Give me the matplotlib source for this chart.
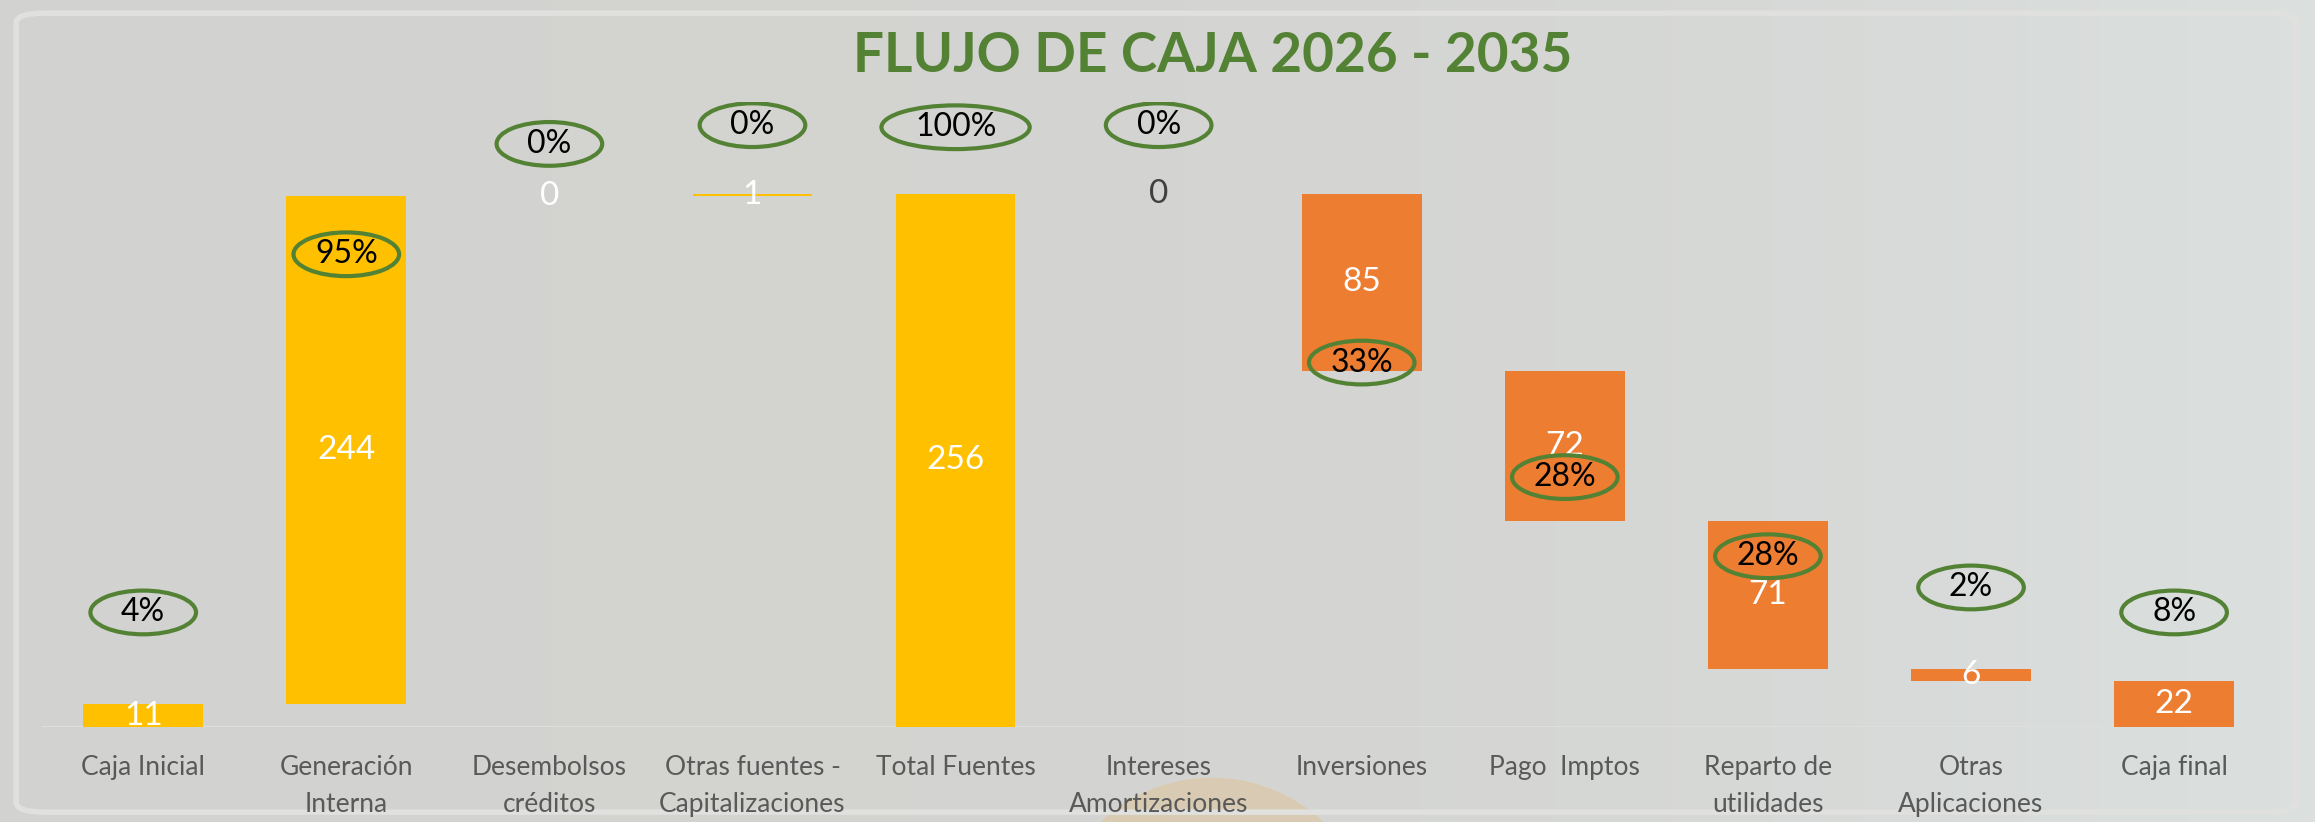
import numpy as np
import matplotlib.pyplot as plt
from matplotlib.patches import FancyBboxPatch, Circle, Ellipse

plt.rcParams['font.family'] = ['Lato', 'DejaVu Sans']

categorias = ["Caja Inicial", "Generación\nInterna", "Desembolsos\ncréditos",
              "Otras fuentes -\nCapitalizaciones", "Total Fuentes",
              "Intereses\nAmortizaciones", "Inversiones", "Pago  Imptos",
              "Reparto de\nutilidades", "Otras\nAplicaciones", "Caja final"]
valores = [11, 244, 0, 1, 256, 0, 85, 72, 71, 6, 22]
# tipo: 'total' arranca desde cero, 'sube' suma, 'baja' resta
tipos = ['total', 'sube', 'sube', 'sube', 'total', 'baja', 'baja', 'baja', 'baja', 'baja', 'total']
porcentajes = ["4%", "95%", "0%", "0%", "100%", "0%", "33%", "28%", "28%", "2%", "8%"]
# altura de cada etiqueta de porcentaje (unidades del eje)
pct_y = [55, 227, 280, 289, 288, 289, 175, 120, 82, 67, 55]

amarillo = '#FFC000'
naranja = '#ED7D31'
verde = '#548235'
gris = '#595959'

# bases y alturas del waterfall
bases = []
nivel = 0
for v, t in zip(valores, tipos):
    if t == 'total':
        bases.append(0)
        nivel = v
    elif t == 'sube':
        bases.append(nivel)
        nivel += v
    else:
        nivel -= v
        bases.append(nivel)

colores = [amarillo] * 5 + [naranja] * 6

fig = plt.figure(figsize=(23.15, 8.22), dpi=100)

# fondo degradado
bg = fig.add_axes([0, 0, 1, 1], zorder=-10)
grad = np.linspace(0, 1, 256)
c1 = np.array([0.827, 0.827, 0.816])
c2 = np.array([0.86, 0.88, 0.875])
img = c1 + (c2 - c1) * (grad[:, None] ** 3)
bg.imshow(img[None, :, :], aspect='auto', extent=[0, 1, 0, 1])
bg.add_patch(Ellipse((0.5235, -0.144), 0.14, 0.394, transform=bg.transData,
                     color='#dcc8a6', alpha=0.7, zorder=1))
bg.add_patch(FancyBboxPatch((0.007, 0.012), 0.985, 0.972,
                            boxstyle='round,pad=0,rounding_size=0.012',
                            fc='none', ec='#e0e0de', lw=4, zorder=2))
bg.set_xlim(0, 1)
bg.set_ylim(0, 1)
bg.axis('off')

ax = fig.add_axes([0.018, 0.1156, 0.965, 0.76])
ax.set_facecolor('none')
x = np.arange(len(categorias))
ax.bar(x, valores, bottom=bases, width=0.59, color=colores, zorder=3)
ax.set_xlim(-0.5, len(categorias) - 0.5)
ax.set_ylim(0, 300)

for s in ax.spines.values():
    s.set_visible(False)
ax.axhline(0, color='#dedede', lw=1.5, zorder=2)
ax.set_yticks([])
ax.set_xticks(x)
ax.set_xticklabels(categorias, fontsize=19, color=gris, linespacing=1.6)
ax.tick_params(axis='x', length=0, pad=20)

for i, (v, b) in enumerate(zip(valores, bases)):
    col = '#404040' if categorias[i].startswith('Intereses') else 'white'
    ax.text(i, b + v / 2, str(v), ha='center', va='center', fontsize=24,
            color=col, zorder=5)

for i, p in enumerate(porcentajes):
    ancho = 0.73 if len(p) > 3 else 0.52
    ax.add_patch(Ellipse((i, pct_y[i]), ancho, 21, fc='none', ec=verde,
                         lw=3, zorder=6))
    ax.text(i, pct_y[i], p, ha='center', va='center', fontsize=23,
            color='black', zorder=6)

fig.text(0.524, 0.932, "FLUJO DE CAJA 2026 - 2035", ha='center', va='center',
         fontsize=39.5, fontweight='bold', color=verde)

fig.savefig('out.png', dpi=100)
